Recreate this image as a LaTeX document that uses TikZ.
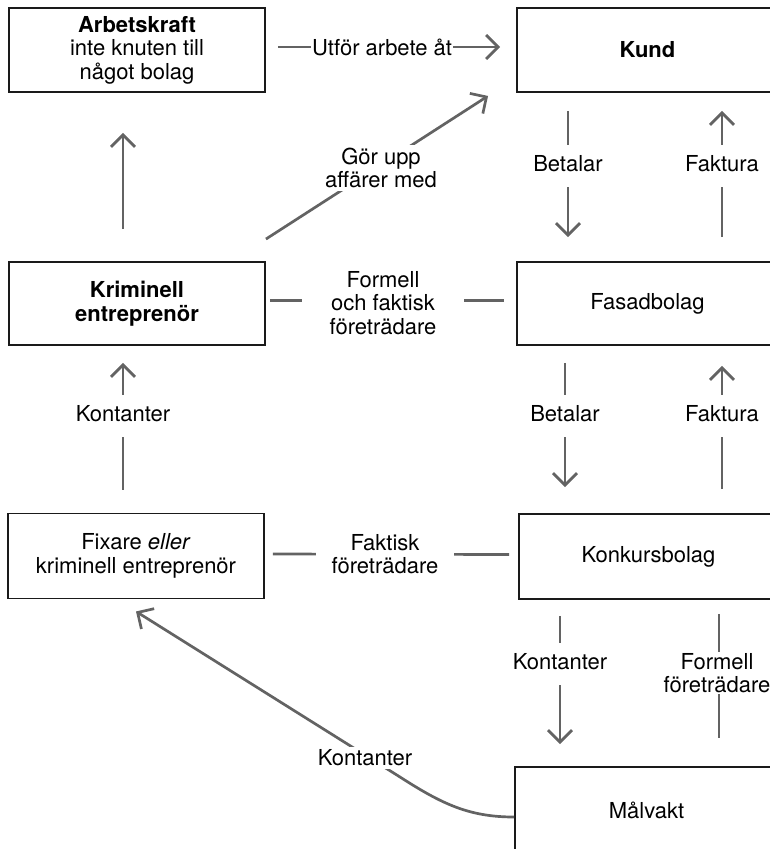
\documentclass[tikz,border=0pt]{standalone}
\usepackage{fontspec}
\setmainfont{TeX Gyre Heros}
\usetikzlibrary{arrows.meta}
\definecolor{linegray}{HTML}{636363}
\definecolor{boxline}{HTML}{1A1A1A}
\begin{document}
\begin{tikzpicture}[x=1pt,y=-1pt,
  every node/.style={font=\fontsize{22pt}{23.5pt}\selectfont},
  box/.style={draw=boxline, line width=1.9pt, inner sep=0pt, align=center},
  conn/.style={draw=linegray, line width=2.7pt},
  arr/.style={conn, -{Straight Barb[length=12pt,width=24pt]}},
  lab/.style={fill=white, align=center, inner xsep=2pt, inner ysep=2pt},
  lv/.style={lab, text height=15pt, text depth=4pt, inner ysep=11.5pt}]
\clip (0,0) rectangle (770,849);
% boxes
\node[box, minimum width=256pt, minimum height=84pt] (arb) at (137,50) {\textbf{Arbetskraft}\\inte knuten till\\något bolag};
\node[box, minimum width=261pt, minimum height=84pt] (kund) at (647.5,50) {\textbf{Kund}};
\node[box, minimum width=256pt, minimum height=83pt] (krim) at (137,303.5) {\textbf{Kriminell}\\\textbf{entreprenör}};
\node[box, minimum width=261pt, minimum height=83pt] (fasad) at (647.5,303.5) {Fasadbolag};
\node[box, minimum width=256pt, minimum height=85pt] (fix) at (136,556) {Fixare \textit{eller}\\kriminell entreprenör};
\node[box, minimum width=259pt, minimum height=85pt] (konk) at (648.5,556.5) {Konkursbolag};
\node[box, minimum width=263pt, minimum height=86pt] (malv) at (646.5,810) {Målvakt};
\coordinate (bend) at (400,777);
% connectors
\draw[arr, shorten <=12pt, shorten >=16pt] ([yshift=3pt]arb.east) -- ([yshift=3pt]kund.west);
\draw[arr] ([yshift=22pt]krim.north east) -- ([xshift=-28pt,yshift=-3pt]kund.south west);
\draw[arr, shorten <=18pt, shorten >=24pt] ([xshift=-79.5pt]kund.south) -- ([xshift=-79.5pt]fasad.north);
\draw[arr, shorten <=24pt, shorten >=18pt] ([xshift=74.5pt]fasad.north) -- ([xshift=74.5pt]kund.south);
\draw[conn, shorten <=4pt, shorten >=12pt] ([yshift=3pt]krim.east) -- ([yshift=3pt]fasad.west);
\draw[arr, shorten <=32pt, shorten >=40pt] ([xshift=-14pt]krim.north) -- ([xshift=-14pt]arb.south);
\draw[arr, shorten <=23pt, shorten >=17pt] ([xshift=-13pt]fix.north) -- ([xshift=-14pt]krim.south);
\draw[arr, shorten <=17pt, shorten >=26pt] ([xshift=-82.5pt]fasad.south) -- ([xshift=-83.5pt]konk.north);
\draw[arr, shorten <=24pt, shorten >=20pt] ([xshift=73.5pt]konk.north) -- ([xshift=74.5pt]fasad.south);
\draw[conn, shorten <=8pt, shorten >=9pt] ([yshift=2pt]fix.east) -- ([yshift=2pt]konk.west);
\draw[arr, shorten <=16pt, shorten >=22pt] ([xshift=-88.5pt]konk.south) -- ([xshift=-86.5pt]malv.north);
\draw[conn, shorten <=14pt, shorten >=28pt] ([xshift=70.5pt]konk.south) -- ([xshift=72.5pt]malv.north);
\draw[arr] ([yshift=-7pt]malv.west) .. controls +(-45,0) and +(42,27) .. (bend) -- ([yshift=-12pt]fix.south);
% labels
\node[lab, inner xsep=1pt] (l1) at (382,47) {Utför arbete åt};
\node[lab, inner sep=3pt] (l2) at (381,168) {Gör upp\\affärer med};
\node[lv] (l3) at (568,166) {Betalar};
\node[lv] (l4) at (722,166) {Faktura};
\node[lab, inner xsep=28pt, inner ysep=0pt] (l5) at (383,303) {Formell\\och faktisk\\företrädare};
\node[lv] (l6) at (123,416) {Kontanter};
\node[lv] (l7) at (565,416) {Betalar};
\node[lv] (l8) at (722,416) {Faktura};
\node[lab, inner xsep=16pt] (l9) at (385,554) {Faktisk\\företrädare};
\node[lv] (l10) at (560,664) {Kontanter};
\node[lab, inner ysep=1pt] (l11) at (717,673) {Formell\\företrädare};
\node[lab, inner sep=3pt] (l12) at (365,758) {Kontanter};
\end{tikzpicture}
\end{document}
